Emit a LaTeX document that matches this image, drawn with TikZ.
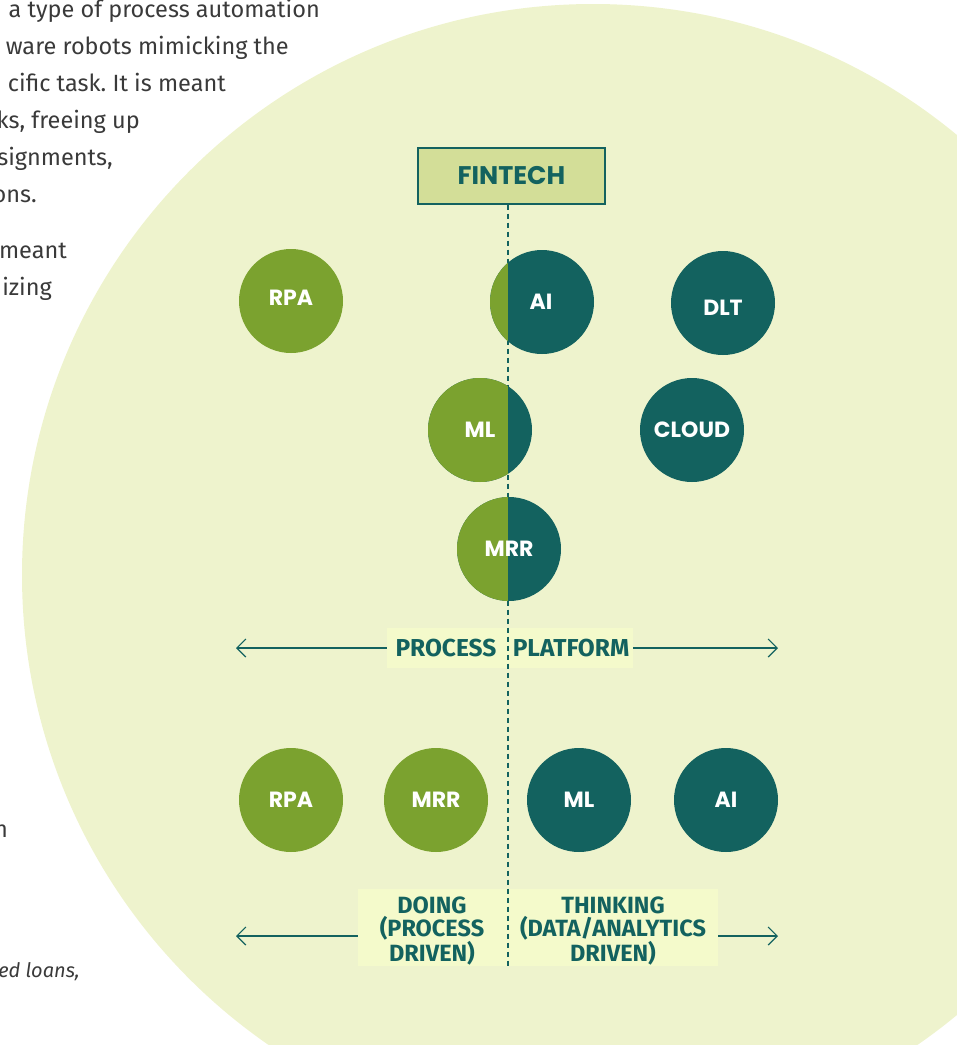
\documentclass[tikz,border=0pt]{standalone}
\usepackage{fontspec}
\setmainfont{Fira Sans}
\newfontfamily\geo{Poppins}
\usetikzlibrary{arrows.meta}
\definecolor{bgc}{HTML}{EEF3CD}
\definecolor{grn}{HTML}{7BA22F}
\definecolor{tealc}{HTML}{13625F}
\definecolor{boxfill}{HTML}{D3DE98}
\definecolor{labfill}{HTML}{F4FACB}
\definecolor{bodyc}{HTML}{3A3A3A}
\frenchspacing
\tikzset{
  body/.style={anchor=base east, inner sep=0pt, text=bodyc, font=\fontsize{23.5}{28}\selectfont},
  bubble/.style={circle, minimum size=104pt, inner sep=0pt},
  bubtext/.style={inner sep=0pt, text=white, font=\geo\bfseries\fontsize{22}{24}\selectfont},
  gbub/.style={bubble, fill=grn},
  tbub/.style={bubble, fill=tealc},
  halfsplit/.style={bubble, fill=tealc, path picture={\fill[grn] (path picture bounding box.south west) rectangle ([xshift=#1]path picture bounding box.north west);}},
  labbox/.style={rectangle, fill=labfill, inner sep=0pt},
  labtext/.style={text=tealc, inner sep=0pt, align=center, font=\bfseries\fontsize{23.5}{22.5}\selectfont},
  arr/.style={draw=tealc, line width=1.2pt, -{Straight Barb[length=9pt,width=18pt,line width=1.2pt]}},
  dashline/.style={draw=tealc, line width=2.8pt, dash pattern=on 5pt off 4pt}
}
\begin{document}
\begin{tikzpicture}[x=1pt,y=-1pt]
\useasboundingbox (0,0) rectangle (957,1045);
% background disc
\fill[bgc] (593,575) circle (571);
% left text (cut by the page edge)
\node[body] (t1) at (320,17) {a type of process automation};
\node[body] (t2) at (289,54) {ware robots mimicking the};
\node[body] (t3) at (226,91) {cific task. It is meant};
\node[body] (t4) at (140,128) {ks, freeing up};
\node[body] (t5) at (113,165) {signments,};
\node[body] (t6) at (37,202) {ons.};
\node[body] (t7) at (67,258) {meant};
\node[body] (t8) at (52,295) {izing};
\node[body] (t9) at (8,837) {n};
\node[body, font=\itshape\fontsize{20}{24}\selectfont] (t10) at (80,977) {ed loans,};
% label boxes
\node[labbox, minimum width=246pt, minimum height=40pt] (plbox) at (510,648) {};
\node[labbox, minimum width=360pt, minimum height=77pt] (dtbox) at (538,927.5) {};
% fintech box
\node[rectangle, draw=tealc, line width=1.3pt, fill=boxfill, minimum width=187pt, minimum height=56pt, inner sep=0pt,
      text=tealc, font=\geo\bfseries\fontsize{25.5}{28}\selectfont] (fin) at (511.5,176) {FINTECH};
\coordinate (dend) at (508,966);
\draw[dashline] (fin.south -| dend) -- (dend);
% arrows
\coordinate (la1) at (236,648);
\coordinate (ra1) at (778,648);
\coordinate (la2) at (236,936);
\coordinate (ra2) at (778,936);
\draw[arr] (plbox.west) -- (la1);
\draw[arr] (plbox.east) -- (ra1);
\draw[arr] (dtbox.west |- la2) -- (la2);
\draw[arr] (dtbox.east |- ra2) -- (ra2);
% label texts
\node[labtext, font=\bfseries\fontsize{24.5}{26}\selectfont] (proc) at (446,648) {PROCESS};
\node[labtext, font=\bfseries\fontsize{24.5}{26}\selectfont] (plat) at (571,648) {PLATFORM};
\node[labtext] (doing) at (432,931) {DOING\\(PROCESS\\DRIVEN)};
\node[labtext] (think) at (613,931) {THINKING\\(DATA/ANALYTICS\\DRIVEN)};
% top circles
\node[gbub] (rpa1) at (291,301) {};
\node[halfsplit=18] (ai1) at (542,302) {};
\node[tbub] (dlt) at (723,303) {};
\node[halfsplit=80] (ml1) at (480,430) {};
\node[tbub] (cloud) at (692,430) {};
\node[halfsplit=51] (mrr1) at (509,549) {};
\node[bubtext] (rpa1l) at (291,298) {RPA};
\node[bubtext] (ai1l) at (541,302) {AI};
\node[bubtext] (dltl) at (723,308) {DLT};
\node[bubtext] (ml1l) at (480,430) {ML};
\node[bubtext] (cloudl) at (692,430) {CLOUD};
\node[bubtext] (mrr1l) at (509,549) {MRR};
% bottom circles
\node[gbub] (rpa2) at (291,800) {};
\node[gbub] (mrr2) at (436,800) {};
\node[tbub] (ml2) at (579,800) {};
\node[tbub] (ai2) at (726,800) {};
\node[bubtext] (rpa2l) at (291,800) {RPA};
\node[bubtext] (mrr2l) at (436,800) {MRR};
\node[bubtext] (ml2l) at (579,800) {ML};
\node[bubtext] (ai2l) at (726,800) {AI};
\end{tikzpicture}
\end{document}
